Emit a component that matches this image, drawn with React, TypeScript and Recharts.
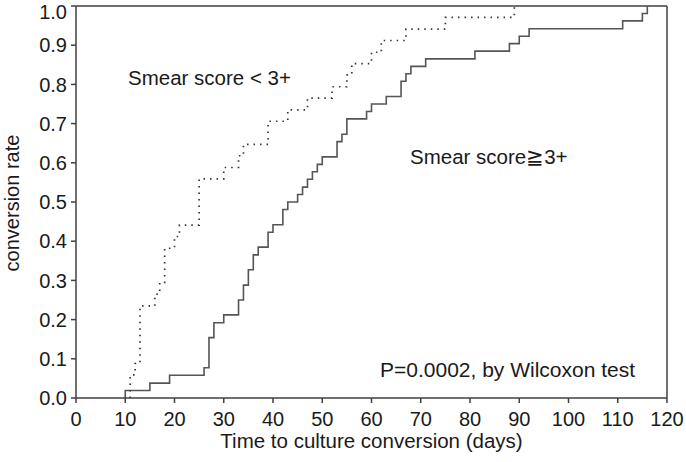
import React from 'react';
import { LineChart, Line, XAxis, YAxis, ReferenceLine, Customized } from 'recharts';

// Smear score >= 3+ (solid)
const highDays = [10, 15, 19, 26, 27, 28, 30, 33, 34, 35, 36, 37, 39, 40, 42, 43, 45, 46, 47, 48, 49, 50, 53, 54, 55, 59, 60, 63, 66, 67, 68, 71, 81, 88, 90, 92, 111, 115, 116];
const highRates = [0.019, 0.038, 0.058, 0.077, 0.154, 0.192, 0.212, 0.25, 0.288, 0.327, 0.365, 0.385, 0.423, 0.442, 0.481, 0.5, 0.519, 0.538, 0.558, 0.577, 0.596, 0.615, 0.654, 0.673, 0.712, 0.731, 0.75, 0.769, 0.808, 0.827, 0.846, 0.865, 0.885, 0.904, 0.923, 0.942, 0.962, 0.981, 1.0];

// Smear score < 3+ (dotted)
const lowDays = [11, 12, 13, 16, 17, 18, 20, 21, 25, 30, 33, 34, 39, 43, 47, 52, 55, 56, 60, 62, 67, 75, 89];
const lowRates = [0.059, 0.088, 0.235, 0.265, 0.294, 0.382, 0.412, 0.441, 0.559, 0.588, 0.618, 0.647, 0.706, 0.735, 0.765, 0.794, 0.824, 0.853, 0.882, 0.912, 0.941, 0.971, 1.0];

const xTicks = [0, 10, 20, 30, 40, 50, 60, 70, 80, 90, 100, 110, 120];
const yTicks = [0, 0.1, 0.2, 0.3, 0.4, 0.5, 0.6, 0.7, 0.8, 0.9, 1.0];

const toSteps = (days: number[], rates: number[]) => [
  { day: days[0], rate: 0 },
  ...days.map((d, i) => ({ day: d, rate: rates[i] })),
];

const highData = toSteps(highDays, highRates);
const lowData = toSteps(lowDays, lowRates);

const FONT = '"Liberation Sans", Arial, sans-serif';
const AXIS = '#404040';
const tickStyle = { fill: '#1a1a1a', fontSize: 20, fontFamily: FONT };

const Notes = () => (
  <g fontFamily={FONT} fill="#1a1a1a" fontSize={20.5}>
    <text x={128} y={85}>Smear score &lt; 3+</text>
    <text x={410} y={164}>Smear score≧3+</text>
    <text x={380} y={377} fontSize={21}>P=0.0002, by Wilcoxon test</text>
    <text
      x={12}
      y={203}
      fontSize={20}
      textAnchor="middle"
      dominantBaseline="central"
      transform="rotate(-90, 12, 203)"
    >
      conversion rate
    </text>
  </g>
);

export default function App() {
  return (
    <div style={{ position: 'fixed', left: 0, top: 0, background: '#fff' }}>
      <LineChart width={686} height={462} margin={{ top: 6, right: 19, bottom: 0, left: 0 }}>
        <XAxis
          type="number"
          dataKey="day"
          domain={[0, 120]}
          ticks={xTicks}
          allowDuplicatedCategory={false}
          stroke={AXIS}
          strokeWidth={1.5}
          tickSize={5}
          tickMargin={9}
          tick={tickStyle}
          height={64}
          label={{ value: 'Time to culture conversion (days)', position: 'insideBottom', offset: 14, style: { ...tickStyle, fontSize: 20.5 } }}
        />
        <YAxis
          type="number"
          dataKey="rate"
          domain={[0, 1]}
          ticks={yTicks}
          tickFormatter={(v: number) => v.toFixed(1)}
          stroke={AXIS}
          strokeWidth={1.5}
          tickSize={5}
          tickMargin={4}
          tick={tickStyle}
          width={76}
        />
        <ReferenceLine y={1} stroke={AXIS} strokeWidth={1.5} />
        <ReferenceLine x={120} stroke={AXIS} strokeWidth={1.5} />
        <Line
          data={highData}
          dataKey="rate"
          type="stepAfter"
          stroke="#555"
          strokeWidth={1.6}
          dot={false}
          isAnimationActive={false}
        />
        <Line
          data={lowData}
          dataKey="rate"
          type="stepAfter"
          stroke="#333"
          strokeWidth={1.7}
          strokeDasharray="1.5 5"
          dot={false}
          isAnimationActive={false}
        />
        <Customized component={Notes} />
      </LineChart>
    </div>
  );
}
